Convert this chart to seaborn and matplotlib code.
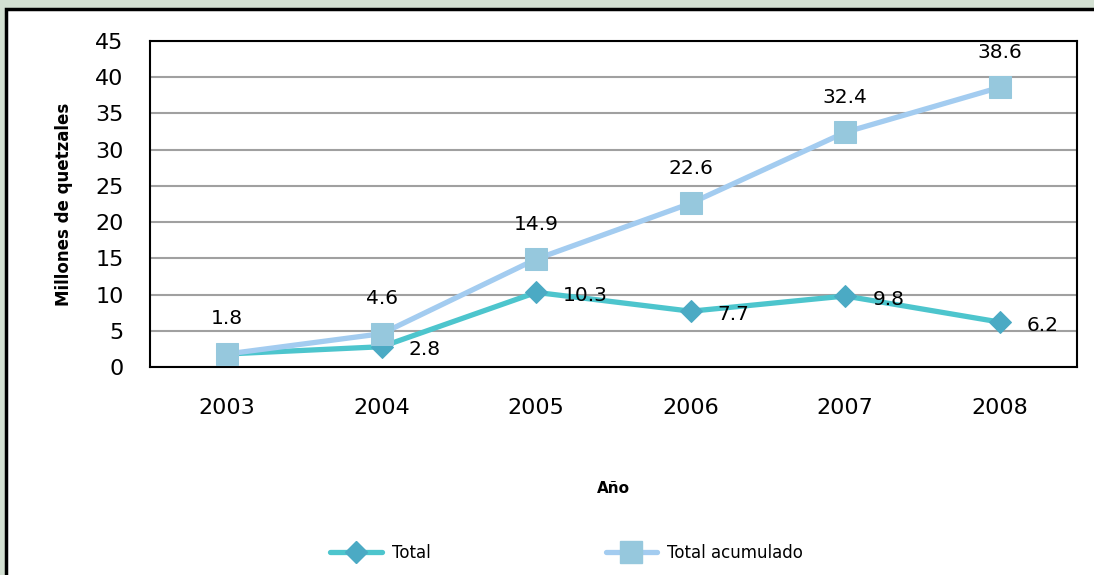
import matplotlib
matplotlib.use("Agg")
import matplotlib.pyplot as plt
from matplotlib.lines import Line2D
from matplotlib.patches import Rectangle
import seaborn as sns
import pandas as pd

years = ["2003", "2004", "2005", "2006", "2007", "2008"]
total = [1.8, 2.8, 10.3, 7.7, 9.8, 6.2]
acumulado = [1.8, 4.6, 14.9, 22.6, 32.4, 38.6]

c_total_line = "#4DC5CD"
c_total_mark = "#4BAAC4"
c_acum_line = "#A3CCF0"
c_acum_mark = "#96C8DD"

sns.set_style("white")
plt.rcParams["font.family"] = ["DejaVu Sans"]
plt.rcParams.update({"text.color": "black", "axes.labelcolor": "black",
                     "xtick.color": "black", "ytick.color": "black"})

df = pd.DataFrame({"Año": years, "Total": total, "Total acumulado": acumulado})

fig = plt.figure(figsize=(10.94, 5.75), dpi=100, facecolor="#D3E0D2")
# white chart panel with black border
fig.patches.append(Rectangle((6 / 1094, -0.2), 1.2, 1.2 - 9 / 575, transform=fig.transFigure,
                             facecolor="white", edgecolor="black", linewidth=2.5, zorder=-10))

ax = fig.add_axes([150 / 1094, 1 - 367 / 575, (1077 - 150) / 1094, (367 - 41) / 575])
ax.set_zorder(1)
ax.set_facecolor("white")

sns.lineplot(data=df, x="Año", y="Total", ax=ax, color=c_total_line, linewidth=3.8,
             marker="D", markersize=11, markerfacecolor=c_total_mark, markeredgecolor=c_total_mark,
             sort=False, zorder=2)
sns.lineplot(data=df, x="Año", y="Total acumulado", ax=ax, color=c_acum_line, linewidth=3.8,
             marker="s", markersize=15.5, markerfacecolor=c_acum_mark, markeredgecolor=c_acum_mark,
             sort=False, zorder=3)

for i, v in enumerate(acumulado):
    ax.annotate(f"{v}", (i, v), xytext=(0, 35), textcoords="offset pixels",
                ha="center", va="center", fontsize=14.5, zorder=5)
# first total label is hidden under the cumulative marker in the original
for i, v in enumerate(total):
    if i == 0:
        continue
    ax.annotate(f"{v}", (i, v), xytext=(27, -3), textcoords="offset pixels",
                ha="left", va="center", fontsize=14.5, zorder=5)

ax.set_xlim(-0.5, 5.5)
ax.set_ylim(0, 45)
ax.set_yticks(range(0, 46, 5))
ax.yaxis.grid(True, color="#A0A0A0", linewidth=1.5)
ax.set_axisbelow(True)

ax.set_xticks(range(len(years)))
ax.set_xticklabels(years)
ax.set_xticks([i - 0.5 for i in range(len(years) + 1)], minor=True)
ax.tick_params(axis="x", which="major", length=0, pad=22, labelsize=16)
ax.tick_params(axis="x", which="minor", length=7, width=1.5, direction="out", color="black")
ax.tick_params(axis="y", length=7, width=1.5, direction="out", color="black", labelsize=16, pad=12)

for s in ax.spines.values():
    s.set_color("black")
    s.set_linewidth(1.5)

ax.set_ylabel("Millones de quetzales", fontsize=12, fontweight="bold", labelpad=16)
ax.set_xlabel("Año", fontsize=11, fontweight="bold", labelpad=46)

handles = [
    Line2D([], [], color=c_total_line, linewidth=3.8, marker="D", markersize=11,
           markerfacecolor=c_total_mark, markeredgecolor=c_total_mark),
    Line2D([], [], color=c_acum_line, linewidth=3.8, marker="s", markersize=15.5,
           markerfacecolor=c_acum_mark, markeredgecolor=c_acum_mark),
]
fig.legend(handles, ["Total", "Total acumulado"], loc="center", bbox_to_anchor=(0.518, 1 - 553 / 575),
           ncol=2, frameon=False, fontsize=12, handlelength=3.1, columnspacing=10.5, handletextpad=0.6)

fig.savefig("out.png", dpi=100, facecolor=fig.get_facecolor())
